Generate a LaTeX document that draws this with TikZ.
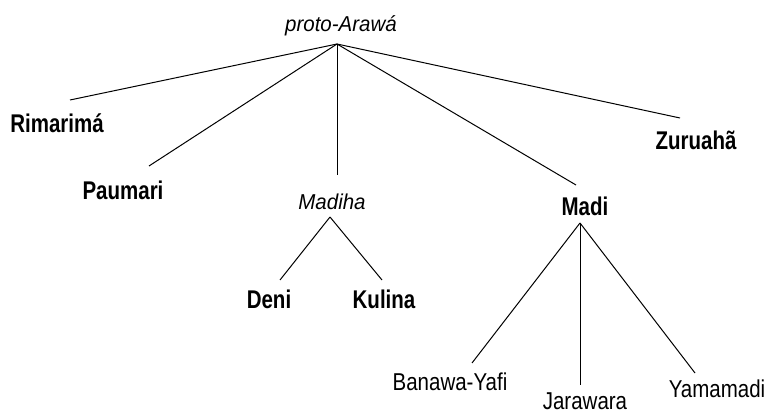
\documentclass[tikz,border=0pt]{standalone}
\usepackage{fontspec}
\setmainfont{Liberation Sans}
\begin{document}
\begin{tikzpicture}[x=1pt,y=-1pt,
  edge/.style={line width=1pt,black},
  boldlab/.style={anchor=base,inner sep=0pt,font=\fontsize{20.5}{24}\selectfont\bfseries},
  reglab/.style={anchor=base,inner sep=0pt,font=\fontsize{20.5}{24}\selectfont},
  itlab/.style={anchor=base,inner sep=0pt,font=\fontsize{20.5}{24}\selectfont\itshape}]
\useasboundingbox[fill=white] (0,0) rectangle (771,414);
% labels
\node[itlab] (proto) at (341,32) {\scalebox{1}[1.05]{proto-Araw\'a}};
\node[boldlab] (rim) at (57,133) {\scalebox{1}[1.25]{Rimarim\'a}};
\node[boldlab] (pau) at (123,200) {\scalebox{1}[1.25]{Paumari}};
\node[itlab] (madiha) at (332,210) {\scalebox{1}[1.05]{Madiha}};
\node[boldlab] (deni) at (269,308) {\scalebox{1}[1.25]{Deni}};
\node[boldlab] (kul) at (384,308) {\scalebox{1}[1.25]{Kulina}};
\node[boldlab] (madi) at (585,215) {\scalebox{1}[1.25]{Madi}};
\node[boldlab] (zur) at (696,150) {\scalebox{1}[1.25]{Zuruahã}};
\node[reglab] (ban) at (450,390) {\scalebox{1}[1.19]{Banawa-Yafi}};
\node[reglab] (jar) at (585,409) {\scalebox{1}[1.19]{Jarawara}};
\node[reglab] (yam) at (717,397) {\scalebox{1}[1.19]{Yamamadi}};
% connector points
\coordinate (rootA) at (337,44);
\coordinate (rimT) at (70,100);
\coordinate (pauT) at (149,166);
\coordinate (madihaT) at (337,175);
\coordinate (madiT) at (576,185);
\coordinate (zurT) at (680,118);
\coordinate (madihaA) at (330,217);
\coordinate (deniT) at (280,280);
\coordinate (kulT) at (382,280);
\coordinate (madiA) at (580,223);
\coordinate (banT) at (472,363);
\coordinate (jarT) at (580,385);
\coordinate (yamT) at (695,373);
% connectors
\draw[edge] (rootA) -- (rimT);
\draw[edge] (rootA) -- (pauT);
\draw[edge] (rootA) -- (madihaT);
\draw[edge] (rootA) -- (madiT);
\draw[edge] (rootA) -- (zurT);
\draw[edge] (madihaA) -- (deniT);
\draw[edge] (madihaA) -- (kulT);
\draw[edge] (madiA) -- (banT);
\draw[edge] (madiA) -- (jarT);
\draw[edge] (madiA) -- (yamT);
\end{tikzpicture}
\end{document}
